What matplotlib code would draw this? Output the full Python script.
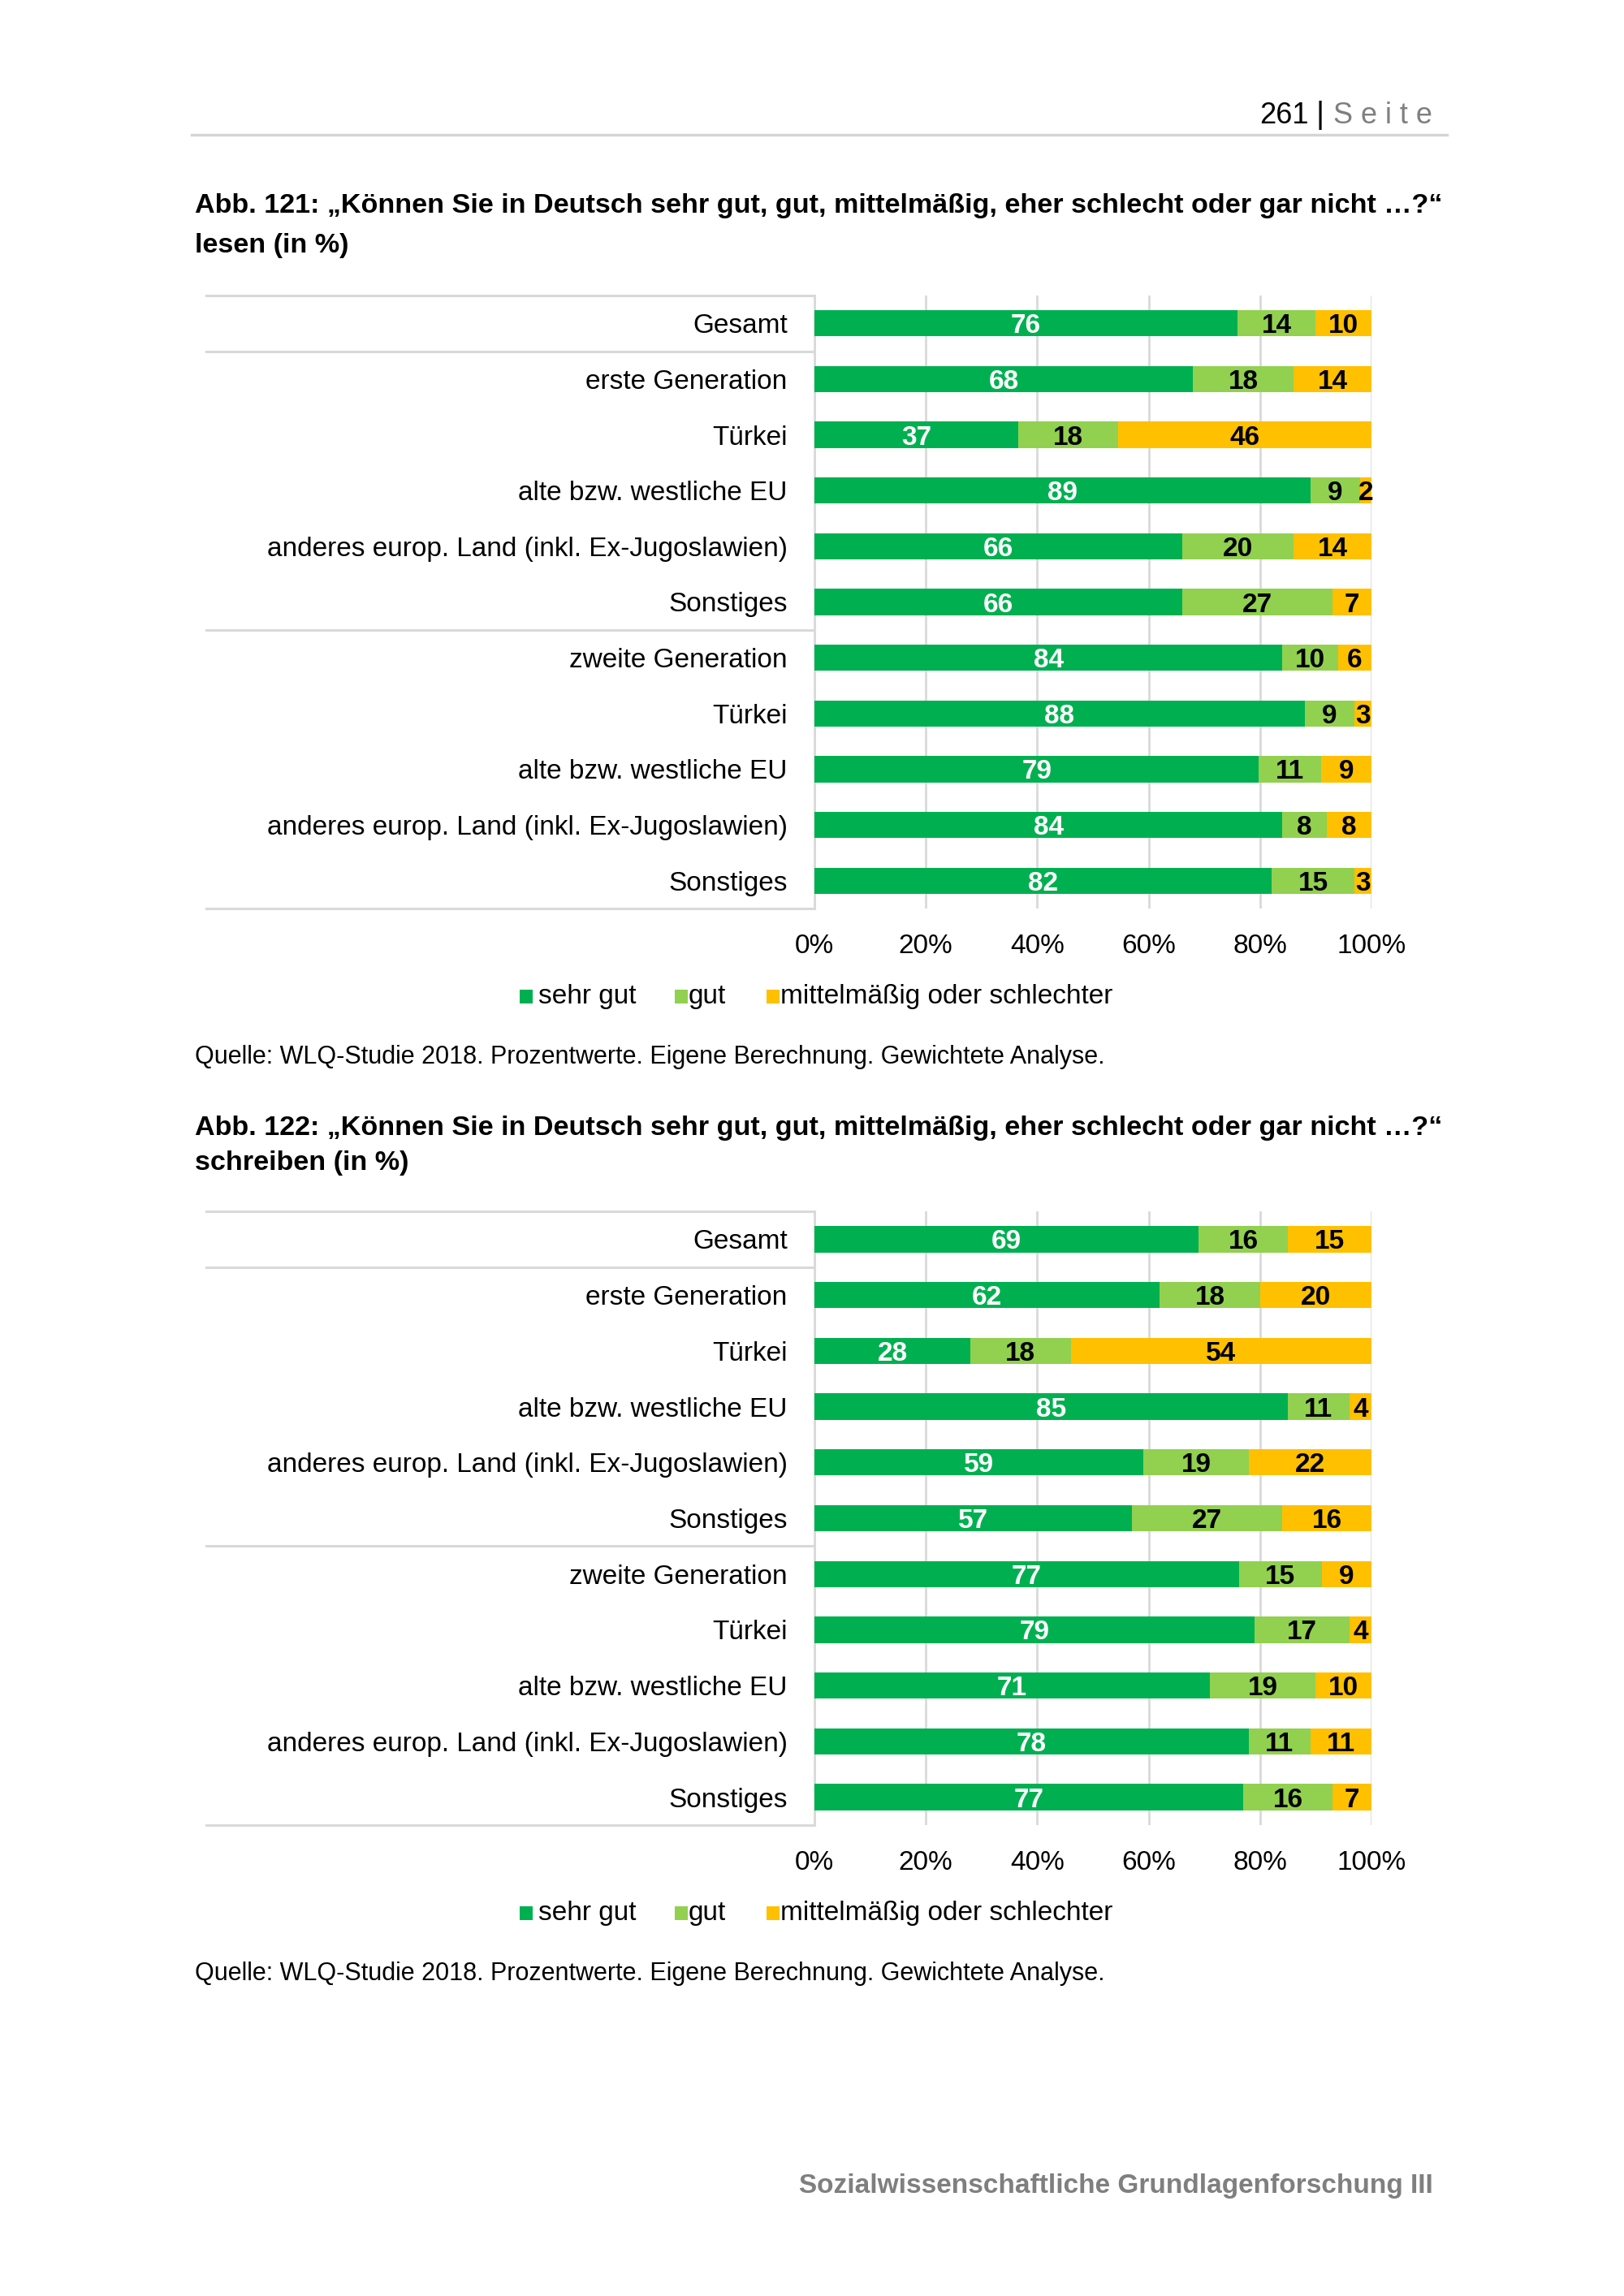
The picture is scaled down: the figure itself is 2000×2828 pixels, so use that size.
import matplotlib
matplotlib.use('Agg')
import matplotlib.pyplot as plt
import matplotlib.transforms as mtransforms
from matplotlib.patches import Rectangle
import numpy as np

plt.rcParams['font.family'] = ['Liberation Sans', 'DejaVu Sans']

# ---------------- data ----------------
categories = ["Gesamt", "erste Generation", "Türkei", "alte bzw. westliche EU",
              "anderes europ. Land (inkl. Ex-Jugoslawien)", "Sonstiges",
              "zweite Generation", "Türkei", "alte bzw. westliche EU",
              "anderes europ. Land (inkl. Ex-Jugoslawien)", "Sonstiges"]
series_names = ["sehr gut", "gut", "mittelmäßig oder schlechter"]

lesen_sehr_gut = [76, 68, 37, 89, 66, 66, 84, 88, 79, 84, 82]
lesen_gut = [14, 18, 18, 9, 20, 27, 10, 9, 11, 8, 15]
lesen_mittel = [10, 14, 46, 2, 14, 7, 6, 3, 9, 8, 3]

schreiben_sehr_gut = [69, 62, 28, 85, 59, 57, 77, 79, 71, 78, 77]
schreiben_gut = [16, 18, 18, 11, 19, 27, 15, 17, 19, 11, 16]
schreiben_mittel = [15, 20, 54, 4, 22, 16, 9, 4, 10, 11, 7]

x_ticks = [0, 20, 40, 60, 80, 100]
x_tick_labels = ["0%", "20%", "40%", "60%", "80%", "100%"]

title1_line1 = "Abb. 121: „Können Sie in Deutsch sehr gut, gut, mittelmäßig, eher schlecht oder gar nicht …?“"
title1_line2 = "lesen (in %)"
title2_line1 = "Abb. 122: „Können Sie in Deutsch sehr gut, gut, mittelmäßig, eher schlecht oder gar nicht …?“"
title2_line2 = "schreiben (in %)"
source_text = "Quelle: WLQ-Studie 2018. Prozentwerte. Eigene Berechnung. Gewichtete Analyse."
footer_text = "Sozialwissenschaftliche Grundlagenforschung III"

colors = ["#00B050", "#92D050", "#FFC000"]
label_colors = ["white", "black", "black"]
GRID = "#D9D9D9"

# ---------------- figure ----------------
W, H = 2000, 2828
DPI = 200
fig = plt.figure(figsize=(W / DPI, H / DPI), dpi=DPI, facecolor="white")

page = fig.add_axes([0, 0, 1, 1])
page.set_xlim(0, W)
page.set_ylim(H, 0)
page.axis("off")


def px_axes(left, top, right, bottom):
    return fig.add_axes([left / W, 1 - bottom / H, (right - left) / W, (bottom - top) / H])


def draw_chart(top, bottom, series):
    ax = px_axes(1003, top, 1689, bottom)
    n = len(categories)
    y = np.arange(n)
    data = np.array(series, dtype=float)
    totals = data.sum(axis=0)
    left = np.zeros(n)
    for i, vals in enumerate(data):
        widths = vals / totals * 100
        ax.barh(y, widths, left=left, height=0.47, color=colors[i], zorder=3)
        for j in range(n):
            ax.text(left[j] + widths[j] / 2, y[j], f"{int(vals[j])}",
                    ha="center", va="center_baseline", fontsize=12,
                    fontweight="bold", color=label_colors[i], zorder=4)
        left = left + widths
    ax.set_xlim(0, 100)
    ax.set_ylim(n - 0.5, -0.5)
    ax.set_xticks(x_ticks)
    ax.set_xticklabels(x_tick_labels, fontsize=12)
    ax.set_yticks(y)
    ax.set_yticklabels(categories, fontsize=12)
    ax.tick_params(axis="x", length=0, pad=11)
    ax.tick_params(axis="y", length=0, pad=12)
    ax.xaxis.grid(True, color=GRID, lw=1.0, zorder=0)
    ax.set_axisbelow(True)
    for s in ["top", "right", "bottom"]:
        ax.spines[s].set_visible(False)
    ax.spines["left"].set_color(GRID)
    ax.spines["left"].set_linewidth(1.0)
    ax.set_facecolor("none")
    trans = mtransforms.blended_transform_factory(ax.transAxes, ax.transData)
    x0 = (254 - 1003) / (1689 - 1003)
    for yv in [-0.5, 0.5, 5.5, n - 0.5]:
        ax.plot([x0, 0], [yv, yv], transform=trans, color=GRID, lw=1.1,
                clip_on=False, zorder=1)
    return ax


def draw_legend(baseline):
    sq_x = [640, 831, 944]
    tx_x = [663, 848, 961]
    for i, name in enumerate(series_names):
        page.add_patch(Rectangle((sq_x[i], baseline - 17), 16, 17,
                                 facecolor=colors[i], edgecolor="none"))
        page.text(tx_x[i], baseline, name, fontsize=12, va="baseline", ha="left")


# header
page.text(1612, 152, "261", fontsize=13, ha="right", va="baseline", color="black")
page.text(1626, 152, "|", fontsize=14, ha="center", va="baseline", color="black")
page.text(1642, 152, "S e i t e", fontsize=13, ha="left", va="baseline", color="#7F7F7F")
page.plot([236, 1782], [166, 166], color="#D4D4D4", lw=1.2)

# chart 1
page.text(240, 262, title1_line1, fontsize=12.3, fontweight="bold", va="baseline")
page.text(240, 311, title1_line2, fontsize=12.3, fontweight="bold", va="baseline")
draw_chart(364, 1119, [lesen_sehr_gut, lesen_gut, lesen_mittel])
draw_legend(1236)
page.text(240, 1310, source_text, fontsize=11, va="baseline")

# chart 2
page.text(240, 1398, title2_line1, fontsize=12.3, fontweight="bold", va="baseline")
page.text(240, 1441, title2_line2, fontsize=12.3, fontweight="bold", va="baseline")
draw_chart(1492, 2248, [schreiben_sehr_gut, schreiben_gut, schreiben_mittel])
draw_legend(2365)
page.text(240, 2439, source_text, fontsize=11, va="baseline")

# footer
page.text(1765, 2701, footer_text, fontsize=12, fontweight="bold", color="#7F7F7F",
          ha="right", va="baseline")

fig.savefig("out.png", dpi=DPI, facecolor="white")
